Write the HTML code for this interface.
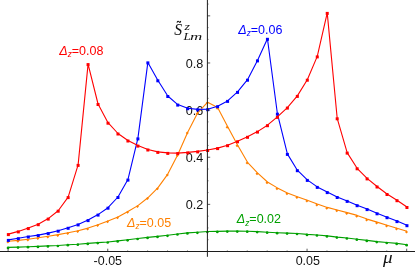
<!DOCTYPE html>
<html><head><meta charset="utf-8"><title>chart</title>
<style>html,body{margin:0;padding:0;background:#fff;}body{width:415px;height:273px;overflow:hidden;position:relative;font-family:"Liberation Sans",sans-serif;}</style>
</head><body>
<svg width="415" height="273" viewBox="0 0 415 273" style="position:absolute;left:0;top:0;will-change:transform" font-family="Liberation Sans, sans-serif">
<g fill="#111" font-size="12.5px">
<text transform="translate(107.8,264.5) scale(1.0,1.02)" text-anchor="middle">-0.05</text>
<text transform="translate(307.8,264.5) scale(1.0,1.02)" text-anchor="middle">0.05</text>
<text transform="translate(203.2,67.9) scale(1.01,1.045)" text-anchor="end">0.8</text>
<text transform="translate(203.2,115.3) scale(1.01,1.045)" text-anchor="end">0.6</text>
<text transform="translate(203.2,162.0) scale(1.01,1.045)" text-anchor="end">0.4</text>
<text transform="translate(203.2,209.0) scale(1.01,1.045)" text-anchor="end">0.2</text>
</g>
<polyline points="8.35,247.40 18.31,247.10 28.28,246.70 38.24,246.40 48.21,245.90 58.18,245.50 68.14,244.70 78.11,244.20 88.07,243.40 98.04,242.60 108.00,242.00 117.97,240.90 127.93,239.80 137.89,238.50 147.86,237.40 157.82,236.40 167.79,235.30 177.75,234.00 187.72,232.90 197.69,232.30 207.65,231.50 217.61,231.40 227.58,231.10 237.54,231.10 247.51,231.20 257.47,231.60 267.44,232.20 277.40,232.70 287.37,233.10 297.33,233.50 307.30,234.40 317.26,235.00 327.23,235.90 337.19,237.10 347.16,238.00 357.12,239.20 367.09,240.40 377.05,241.60 387.02,242.50 396.98,243.40 406.95,244.70" fill="none" stroke="#00a000" stroke-width="1.1" stroke-linejoin="round"/><circle cx="8.05" cy="247.90" r="1.35" fill="#00a000"/><circle cx="18.01" cy="247.60" r="1.35" fill="#00a000"/><circle cx="27.98" cy="247.20" r="1.35" fill="#00a000"/><circle cx="37.95" cy="246.90" r="1.35" fill="#00a000"/><circle cx="47.91" cy="246.40" r="1.35" fill="#00a000"/><circle cx="57.88" cy="246.00" r="1.35" fill="#00a000"/><circle cx="67.84" cy="245.20" r="1.35" fill="#00a000"/><circle cx="77.81" cy="244.70" r="1.35" fill="#00a000"/><circle cx="87.77" cy="243.90" r="1.35" fill="#00a000"/><circle cx="97.74" cy="243.10" r="1.35" fill="#00a000"/><circle cx="107.70" cy="242.50" r="1.35" fill="#00a000"/><circle cx="117.67" cy="241.40" r="1.35" fill="#00a000"/><circle cx="127.63" cy="240.30" r="1.35" fill="#00a000"/><circle cx="137.59" cy="239.00" r="1.35" fill="#00a000"/><circle cx="147.56" cy="237.90" r="1.35" fill="#00a000"/><circle cx="157.52" cy="236.90" r="1.35" fill="#00a000"/><circle cx="167.49" cy="235.80" r="1.35" fill="#00a000"/><circle cx="177.45" cy="234.50" r="1.35" fill="#00a000"/><circle cx="187.42" cy="233.40" r="1.35" fill="#00a000"/><circle cx="197.38" cy="232.80" r="1.35" fill="#00a000"/><circle cx="207.35" cy="232.00" r="1.35" fill="#00a000"/><circle cx="217.31" cy="231.90" r="1.35" fill="#00a000"/><circle cx="227.28" cy="231.60" r="1.35" fill="#00a000"/><circle cx="237.24" cy="231.60" r="1.35" fill="#00a000"/><circle cx="247.21" cy="231.70" r="1.35" fill="#00a000"/><circle cx="257.17" cy="232.10" r="1.35" fill="#00a000"/><circle cx="267.14" cy="232.70" r="1.35" fill="#00a000"/><circle cx="277.10" cy="233.20" r="1.35" fill="#00a000"/><circle cx="287.07" cy="233.60" r="1.35" fill="#00a000"/><circle cx="297.03" cy="234.00" r="1.35" fill="#00a000"/><circle cx="307.00" cy="234.90" r="1.35" fill="#00a000"/><circle cx="316.96" cy="235.50" r="1.35" fill="#00a000"/><circle cx="326.93" cy="236.40" r="1.35" fill="#00a000"/><circle cx="336.89" cy="237.60" r="1.35" fill="#00a000"/><circle cx="346.86" cy="238.50" r="1.35" fill="#00a000"/><circle cx="356.82" cy="239.70" r="1.35" fill="#00a000"/><circle cx="366.79" cy="240.90" r="1.35" fill="#00a000"/><circle cx="376.75" cy="242.10" r="1.35" fill="#00a000"/><circle cx="386.72" cy="243.00" r="1.35" fill="#00a000"/><circle cx="396.68" cy="243.90" r="1.35" fill="#00a000"/><circle cx="406.65" cy="245.20" r="1.35" fill="#00a000"/>
<polyline points="8.35,241.30 18.31,240.40 28.28,239.20 38.24,237.70 48.21,236.30 58.18,234.60 68.14,232.70 78.11,230.70 88.07,228.10 98.04,224.70 108.00,220.90 117.97,217.00 127.93,211.50 137.89,205.60 147.86,197.80 157.82,187.90 167.79,174.10 177.75,154.70 187.72,132.30 197.69,112.80 207.65,102.20 217.61,107.40 227.58,126.50 237.54,144.90 247.51,162.30 257.47,172.90 267.44,182.00 277.40,187.90 287.37,192.90 297.33,196.70 307.30,200.30 317.26,204.10 327.23,207.40 337.19,210.00 347.16,212.60 357.12,215.40 367.09,219.10 377.05,222.10 387.02,225.20 396.98,228.20 406.95,231.20" fill="none" stroke="#ff8000" stroke-width="1.1" stroke-linejoin="round"/><path d="M6.40,242.10L7.90,240.60L9.40,242.10L7.90,243.60Z" fill="#ff8000"/><path d="M16.36,241.20L17.86,239.70L19.36,241.20L17.86,242.70Z" fill="#ff8000"/><path d="M26.33,240.00L27.83,238.50L29.33,240.00L27.83,241.50Z" fill="#ff8000"/><path d="M36.29,238.50L37.79,237.00L39.29,238.50L37.79,240.00Z" fill="#ff8000"/><path d="M46.26,237.10L47.76,235.60L49.26,237.10L47.76,238.60Z" fill="#ff8000"/><path d="M56.23,235.40L57.73,233.90L59.23,235.40L57.73,236.90Z" fill="#ff8000"/><path d="M66.19,233.50L67.69,232.00L69.19,233.50L67.69,235.00Z" fill="#ff8000"/><path d="M76.16,231.50L77.66,230.00L79.16,231.50L77.66,233.00Z" fill="#ff8000"/><path d="M86.12,228.90L87.62,227.40L89.12,228.90L87.62,230.40Z" fill="#ff8000"/><path d="M96.09,225.50L97.59,224.00L99.09,225.50L97.59,227.00Z" fill="#ff8000"/><path d="M106.05,221.70L107.55,220.20L109.05,221.70L107.55,223.20Z" fill="#ff8000"/><path d="M116.02,217.80L117.52,216.30L119.02,217.80L117.52,219.30Z" fill="#ff8000"/><path d="M125.98,212.30L127.48,210.80L128.98,212.30L127.48,213.80Z" fill="#ff8000"/><path d="M135.94,206.40L137.44,204.90L138.94,206.40L137.44,207.90Z" fill="#ff8000"/><path d="M145.91,198.60L147.41,197.10L148.91,198.60L147.41,200.10Z" fill="#ff8000"/><path d="M155.88,188.70L157.38,187.20L158.88,188.70L157.38,190.20Z" fill="#ff8000"/><path d="M165.84,174.90L167.34,173.40L168.84,174.90L167.34,176.40Z" fill="#ff8000"/><path d="M175.81,155.50L177.31,154.00L178.81,155.50L177.31,157.00Z" fill="#ff8000"/><path d="M185.77,133.10L187.27,131.60L188.77,133.10L187.27,134.60Z" fill="#ff8000"/><path d="M195.74,113.60L197.24,112.10L198.74,113.60L197.24,115.10Z" fill="#ff8000"/><path d="M205.70,103.00L207.20,101.50L208.70,103.00L207.20,104.50Z" fill="#ff8000"/><path d="M215.66,108.20L217.16,106.70L218.66,108.20L217.16,109.70Z" fill="#ff8000"/><path d="M225.63,127.30L227.13,125.80L228.63,127.30L227.13,128.80Z" fill="#ff8000"/><path d="M235.59,145.70L237.09,144.20L238.59,145.70L237.09,147.20Z" fill="#ff8000"/><path d="M245.56,163.10L247.06,161.60L248.56,163.10L247.06,164.60Z" fill="#ff8000"/><path d="M255.52,173.70L257.02,172.20L258.52,173.70L257.02,175.20Z" fill="#ff8000"/><path d="M265.49,182.80L266.99,181.30L268.49,182.80L266.99,184.30Z" fill="#ff8000"/><path d="M275.45,188.70L276.95,187.20L278.45,188.70L276.95,190.20Z" fill="#ff8000"/><path d="M285.42,193.70L286.92,192.20L288.42,193.70L286.92,195.20Z" fill="#ff8000"/><path d="M295.38,197.50L296.88,196.00L298.38,197.50L296.88,199.00Z" fill="#ff8000"/><path d="M305.35,201.10L306.85,199.60L308.35,201.10L306.85,202.60Z" fill="#ff8000"/><path d="M315.31,204.90L316.81,203.40L318.31,204.90L316.81,206.40Z" fill="#ff8000"/><path d="M325.28,208.20L326.78,206.70L328.28,208.20L326.78,209.70Z" fill="#ff8000"/><path d="M335.24,210.80L336.74,209.30L338.24,210.80L336.74,212.30Z" fill="#ff8000"/><path d="M345.21,213.40L346.71,211.90L348.21,213.40L346.71,214.90Z" fill="#ff8000"/><path d="M355.17,216.20L356.67,214.70L358.17,216.20L356.67,217.70Z" fill="#ff8000"/><path d="M365.14,219.90L366.64,218.40L368.14,219.90L366.64,221.40Z" fill="#ff8000"/><path d="M375.10,222.90L376.60,221.40L378.10,222.90L376.60,224.40Z" fill="#ff8000"/><path d="M385.07,226.00L386.57,224.50L388.07,226.00L386.57,227.50Z" fill="#ff8000"/><path d="M395.03,229.00L396.53,227.50L398.03,229.00L396.53,230.50Z" fill="#ff8000"/><path d="M405.00,232.00L406.50,230.50L408.00,232.00L406.50,233.50Z" fill="#ff8000"/>
<polyline points="8.35,239.90 18.31,238.20 28.28,236.50 38.24,235.10 48.21,233.10 58.18,230.70 68.14,227.80 78.11,224.40 88.07,220.10 98.04,214.60 108.00,207.70 117.97,197.00 127.93,179.60 137.89,138.40 147.86,62.40 157.82,80.30 167.79,96.00 177.75,104.60 187.72,108.20 197.69,109.40 207.65,109.20 217.61,106.20 227.58,100.90 237.54,91.90 247.51,79.70 257.47,60.40 267.44,38.80 277.40,113.70 287.37,153.90 297.33,170.20 307.30,179.90 317.26,186.90 327.23,192.10 337.19,197.00 347.16,200.90 357.12,205.20 367.09,209.10 377.05,213.30 387.02,217.20 396.98,221.10 406.95,225.20" fill="none" stroke="#0000ff" stroke-width="1.1" stroke-linejoin="round"/><rect x="6.85" y="238.90" width="3.0" height="3.0" fill="#0000ff"/><rect x="16.81" y="237.20" width="3.0" height="3.0" fill="#0000ff"/><rect x="26.78" y="235.50" width="3.0" height="3.0" fill="#0000ff"/><rect x="36.74" y="234.10" width="3.0" height="3.0" fill="#0000ff"/><rect x="46.71" y="232.10" width="3.0" height="3.0" fill="#0000ff"/><rect x="56.68" y="229.70" width="3.0" height="3.0" fill="#0000ff"/><rect x="66.64" y="226.80" width="3.0" height="3.0" fill="#0000ff"/><rect x="76.61" y="223.40" width="3.0" height="3.0" fill="#0000ff"/><rect x="86.57" y="219.10" width="3.0" height="3.0" fill="#0000ff"/><rect x="96.54" y="213.60" width="3.0" height="3.0" fill="#0000ff"/><rect x="106.50" y="206.70" width="3.0" height="3.0" fill="#0000ff"/><rect x="116.47" y="196.00" width="3.0" height="3.0" fill="#0000ff"/><rect x="126.43" y="178.60" width="3.0" height="3.0" fill="#0000ff"/><rect x="136.39" y="137.40" width="3.0" height="3.0" fill="#0000ff"/><rect x="146.36" y="61.40" width="3.0" height="3.0" fill="#0000ff"/><rect x="156.32" y="79.30" width="3.0" height="3.0" fill="#0000ff"/><rect x="166.29" y="95.00" width="3.0" height="3.0" fill="#0000ff"/><rect x="176.25" y="103.60" width="3.0" height="3.0" fill="#0000ff"/><rect x="186.22" y="107.20" width="3.0" height="3.0" fill="#0000ff"/><rect x="196.19" y="108.40" width="3.0" height="3.0" fill="#0000ff"/><rect x="206.15" y="108.20" width="3.0" height="3.0" fill="#0000ff"/><rect x="216.11" y="105.20" width="3.0" height="3.0" fill="#0000ff"/><rect x="226.08" y="99.90" width="3.0" height="3.0" fill="#0000ff"/><rect x="236.04" y="90.90" width="3.0" height="3.0" fill="#0000ff"/><rect x="246.01" y="78.70" width="3.0" height="3.0" fill="#0000ff"/><rect x="255.97" y="59.40" width="3.0" height="3.0" fill="#0000ff"/><rect x="265.94" y="37.80" width="3.0" height="3.0" fill="#0000ff"/><rect x="275.90" y="112.70" width="3.0" height="3.0" fill="#0000ff"/><rect x="285.87" y="152.90" width="3.0" height="3.0" fill="#0000ff"/><rect x="295.83" y="169.20" width="3.0" height="3.0" fill="#0000ff"/><rect x="305.80" y="178.90" width="3.0" height="3.0" fill="#0000ff"/><rect x="315.76" y="185.90" width="3.0" height="3.0" fill="#0000ff"/><rect x="325.73" y="191.10" width="3.0" height="3.0" fill="#0000ff"/><rect x="335.69" y="196.00" width="3.0" height="3.0" fill="#0000ff"/><rect x="345.66" y="199.90" width="3.0" height="3.0" fill="#0000ff"/><rect x="355.62" y="204.20" width="3.0" height="3.0" fill="#0000ff"/><rect x="365.59" y="208.10" width="3.0" height="3.0" fill="#0000ff"/><rect x="375.55" y="212.30" width="3.0" height="3.0" fill="#0000ff"/><rect x="385.52" y="216.20" width="3.0" height="3.0" fill="#0000ff"/><rect x="395.48" y="220.10" width="3.0" height="3.0" fill="#0000ff"/><rect x="405.45" y="224.20" width="3.0" height="3.0" fill="#0000ff"/>
<polyline points="8.35,234.10 18.31,231.40 28.28,228.10 38.24,224.20 48.21,218.60 58.18,210.70 68.14,197.10 78.11,164.90 88.07,64.10 98.04,104.00 108.00,122.70 117.97,133.50 127.93,140.50 137.89,145.60 147.86,149.50 157.82,151.90 167.79,152.90 177.75,153.10 187.72,152.40 197.69,151.40 207.65,150.00 217.61,148.10 227.58,145.20 237.54,141.30 247.51,136.80 257.47,131.60 267.44,125.20 277.40,116.90 287.37,107.60 297.33,95.90 307.30,79.70 317.26,56.40 327.23,12.90 337.19,118.30 347.16,152.60 357.12,168.30 367.09,178.40 377.05,186.50 387.02,194.00 396.98,200.20 406.95,207.00" fill="none" stroke="#ff0000" stroke-width="1.1" stroke-linejoin="round"/><rect x="6.85" y="233.10" width="3.0" height="3.0" fill="#ff0000"/><rect x="16.81" y="230.40" width="3.0" height="3.0" fill="#ff0000"/><rect x="26.78" y="227.10" width="3.0" height="3.0" fill="#ff0000"/><rect x="36.74" y="223.20" width="3.0" height="3.0" fill="#ff0000"/><rect x="46.71" y="217.60" width="3.0" height="3.0" fill="#ff0000"/><rect x="56.68" y="209.70" width="3.0" height="3.0" fill="#ff0000"/><rect x="66.64" y="196.10" width="3.0" height="3.0" fill="#ff0000"/><rect x="76.61" y="163.90" width="3.0" height="3.0" fill="#ff0000"/><rect x="86.57" y="63.10" width="3.0" height="3.0" fill="#ff0000"/><rect x="96.54" y="103.00" width="3.0" height="3.0" fill="#ff0000"/><rect x="106.50" y="121.70" width="3.0" height="3.0" fill="#ff0000"/><rect x="116.47" y="132.50" width="3.0" height="3.0" fill="#ff0000"/><rect x="126.43" y="139.50" width="3.0" height="3.0" fill="#ff0000"/><rect x="136.39" y="144.60" width="3.0" height="3.0" fill="#ff0000"/><rect x="146.36" y="148.50" width="3.0" height="3.0" fill="#ff0000"/><rect x="156.32" y="150.90" width="3.0" height="3.0" fill="#ff0000"/><rect x="166.29" y="151.90" width="3.0" height="3.0" fill="#ff0000"/><rect x="176.25" y="152.10" width="3.0" height="3.0" fill="#ff0000"/><rect x="186.22" y="151.40" width="3.0" height="3.0" fill="#ff0000"/><rect x="196.19" y="150.40" width="3.0" height="3.0" fill="#ff0000"/><rect x="206.15" y="149.00" width="3.0" height="3.0" fill="#ff0000"/><rect x="216.11" y="147.10" width="3.0" height="3.0" fill="#ff0000"/><rect x="226.08" y="144.20" width="3.0" height="3.0" fill="#ff0000"/><rect x="236.04" y="140.30" width="3.0" height="3.0" fill="#ff0000"/><rect x="246.01" y="135.80" width="3.0" height="3.0" fill="#ff0000"/><rect x="255.97" y="130.60" width="3.0" height="3.0" fill="#ff0000"/><rect x="265.94" y="124.20" width="3.0" height="3.0" fill="#ff0000"/><rect x="275.90" y="115.90" width="3.0" height="3.0" fill="#ff0000"/><rect x="285.87" y="106.60" width="3.0" height="3.0" fill="#ff0000"/><rect x="295.83" y="94.90" width="3.0" height="3.0" fill="#ff0000"/><rect x="305.80" y="78.70" width="3.0" height="3.0" fill="#ff0000"/><rect x="315.76" y="55.40" width="3.0" height="3.0" fill="#ff0000"/><rect x="325.73" y="11.90" width="3.0" height="3.0" fill="#ff0000"/><rect x="335.69" y="117.30" width="3.0" height="3.0" fill="#ff0000"/><rect x="345.66" y="151.60" width="3.0" height="3.0" fill="#ff0000"/><rect x="355.62" y="167.30" width="3.0" height="3.0" fill="#ff0000"/><rect x="365.59" y="177.40" width="3.0" height="3.0" fill="#ff0000"/><rect x="375.55" y="185.50" width="3.0" height="3.0" fill="#ff0000"/><rect x="385.52" y="193.00" width="3.0" height="3.0" fill="#ff0000"/><rect x="395.48" y="199.20" width="3.0" height="3.0" fill="#ff0000"/><rect x="405.45" y="206.00" width="3.0" height="3.0" fill="#ff0000"/>
<g stroke="#1c1c1c" stroke-width="1" fill="none">
<line x1="0" y1="251.5" x2="415" y2="251.5"/>
<line x1="207.4" y1="0" x2="207.4" y2="256.8"/>
</g>
<g stroke="#222" stroke-width="0.75"><line x1="207.4" y1="239.72" x2="208.9" y2="239.72" stroke-opacity="0.5"/><line x1="207.4" y1="227.94" x2="208.9" y2="227.94" stroke-opacity="0.5"/><line x1="207.4" y1="216.15" x2="208.9" y2="216.15" stroke-opacity="0.5"/><line x1="207.4" y1="204.37" x2="210.20000000000002" y2="204.37" stroke-opacity="1"/><line x1="207.4" y1="192.59" x2="208.9" y2="192.59" stroke-opacity="0.5"/><line x1="207.4" y1="180.81" x2="208.9" y2="180.81" stroke-opacity="0.5"/><line x1="207.4" y1="169.02" x2="208.9" y2="169.02" stroke-opacity="0.5"/><line x1="207.4" y1="157.24" x2="210.20000000000002" y2="157.24" stroke-opacity="1"/><line x1="207.4" y1="145.46" x2="208.9" y2="145.46" stroke-opacity="0.5"/><line x1="207.4" y1="133.68" x2="208.9" y2="133.68" stroke-opacity="0.5"/><line x1="207.4" y1="121.89" x2="208.9" y2="121.89" stroke-opacity="0.5"/><line x1="207.4" y1="110.11" x2="210.20000000000002" y2="110.11" stroke-opacity="1"/><line x1="207.4" y1="98.33" x2="208.9" y2="98.33" stroke-opacity="0.5"/><line x1="207.4" y1="86.54" x2="208.9" y2="86.54" stroke-opacity="0.5"/><line x1="207.4" y1="74.76" x2="208.9" y2="74.76" stroke-opacity="0.5"/><line x1="207.4" y1="62.98" x2="210.20000000000002" y2="62.98" stroke-opacity="1"/><line x1="207.4" y1="51.20" x2="208.9" y2="51.20" stroke-opacity="0.5"/><line x1="207.4" y1="39.41" x2="208.9" y2="39.41" stroke-opacity="0.5"/><line x1="207.4" y1="27.63" x2="208.9" y2="27.63" stroke-opacity="0.5"/><line x1="207.4" y1="15.85" x2="210.20000000000002" y2="15.85" stroke-opacity="1"/><line x1="207.4" y1="4.07" x2="208.9" y2="4.07" stroke-opacity="0.5"/><line x1="8.10" y1="251.5" x2="8.10" y2="248.7" stroke-opacity="1"/><line x1="28.03" y1="251.5" x2="28.03" y2="250.0" stroke-opacity="0.5"/><line x1="47.96" y1="251.5" x2="47.96" y2="250.0" stroke-opacity="0.5"/><line x1="67.89" y1="251.5" x2="67.89" y2="250.0" stroke-opacity="0.5"/><line x1="87.82" y1="251.5" x2="87.82" y2="250.0" stroke-opacity="0.5"/><line x1="107.75" y1="251.5" x2="107.75" y2="248.7" stroke-opacity="1"/><line x1="127.68" y1="251.5" x2="127.68" y2="250.0" stroke-opacity="0.5"/><line x1="147.61" y1="251.5" x2="147.61" y2="250.0" stroke-opacity="0.5"/><line x1="167.54" y1="251.5" x2="167.54" y2="250.0" stroke-opacity="0.5"/><line x1="187.47" y1="251.5" x2="187.47" y2="250.0" stroke-opacity="0.5"/><line x1="227.33" y1="251.5" x2="227.33" y2="250.0" stroke-opacity="0.5"/><line x1="247.26" y1="251.5" x2="247.26" y2="250.0" stroke-opacity="0.5"/><line x1="267.19" y1="251.5" x2="267.19" y2="250.0" stroke-opacity="0.5"/><line x1="287.12" y1="251.5" x2="287.12" y2="250.0" stroke-opacity="0.5"/><line x1="307.05" y1="251.5" x2="307.05" y2="248.7" stroke-opacity="1"/><line x1="326.98" y1="251.5" x2="326.98" y2="250.0" stroke-opacity="0.5"/><line x1="346.91" y1="251.5" x2="346.91" y2="250.0" stroke-opacity="0.5"/><line x1="366.84" y1="251.5" x2="366.84" y2="250.0" stroke-opacity="0.5"/><line x1="386.77" y1="251.5" x2="386.77" y2="250.0" stroke-opacity="0.5"/><line x1="406.70" y1="251.5" x2="406.70" y2="248.7" stroke-opacity="1"/></g>
<text x="59.3" y="54.7" fill="#ff0000" font-size="12.5px"><tspan font-style="italic">Δ</tspan><tspan font-style="italic" font-size="8.2px" dy="2.6">z</tspan><tspan dy="-2.6">=0.08</tspan></text>
<text x="238.3" y="33.5" fill="#0000ff" font-size="12.5px"><tspan font-style="italic">Δ</tspan><tspan font-style="italic" font-size="8.2px" dy="2.6">z</tspan><tspan dy="-2.6">=0.06</tspan></text>
<text x="127" y="226.6" fill="#ff8000" font-size="12.5px"><tspan font-style="italic">Δ</tspan><tspan font-style="italic" font-size="8.2px" dy="2.6">z</tspan><tspan dy="-2.6">=0.05</tspan></text>
<text x="236.85" y="223.15" fill="#00a000" font-size="12.5px"><tspan font-style="italic">Δ</tspan><tspan font-style="italic" font-size="8.2px" dy="2.6">z</tspan><tspan dy="-2.6">=0.02</tspan></text>
<g fill="#111" font-family="Liberation Serif, serif" font-style="italic">
<text transform="translate(382.9,263.3) scale(1.17,1)" font-size="16.4px">μ</text>
<text transform="translate(174.2,35.2) scale(0.98,1)" font-size="16.1px">S</text>
<path d="M177.0,22.7 C177.6,20.7 178.5,21.1 179.0,21.8 C179.5,22.5 180.2,22.8 180.7,21.0" fill="none" stroke="#111" stroke-width="1.1"/>
<text transform="translate(184.4,29.8) scale(1.25,1)" font-size="11.3px">z</text>
<text transform="translate(183.6,39.5) scale(1.2,1)" font-size="11px">L</text>
<text transform="translate(190.0,39.5) scale(1.5,1)" font-size="11.3px">m</text>
</g>
</svg>
</body></html>
